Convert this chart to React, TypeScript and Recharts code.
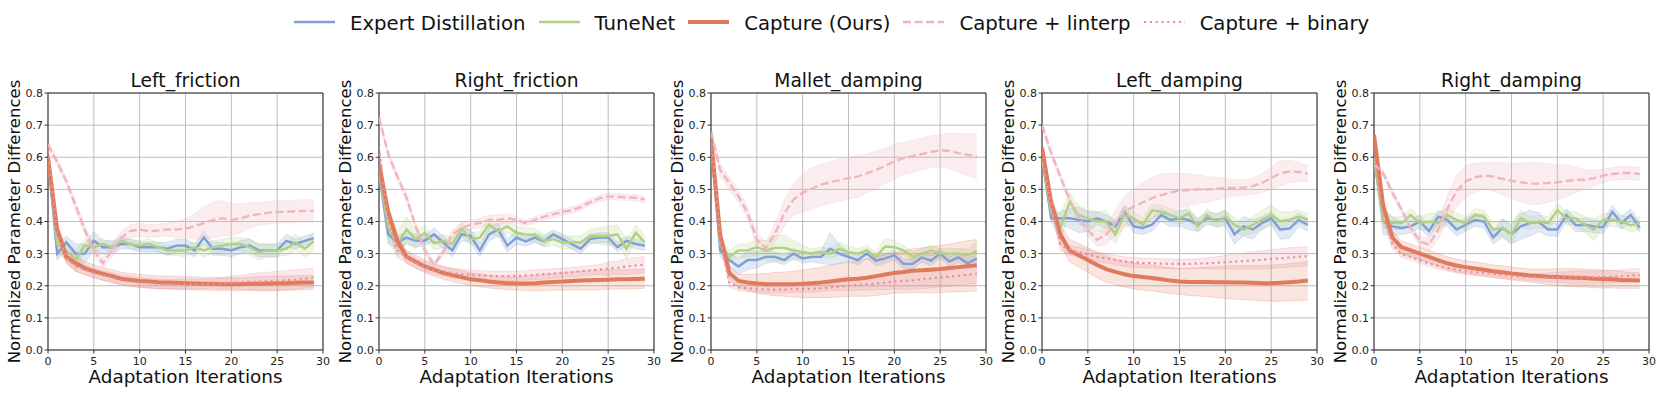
import React from 'react';
import { ComposedChart, Line, Area, XAxis, YAxis, CartesianGrid, ReferenceArea } from 'recharts';

const ITER = [0,1,2,3,4,5,6,7,8,9,10,11,12,13,14,15,16,17,18,19,20,21,22,23,24,25,26,27,28,29];
const X_TICKS = [0,5,10,15,20,25,30];
const Y_TICKS = [0,0.1,0.2,0.3,0.4,0.5,0.6,0.7,0.8];
const TITLES = ['Left_friction','Right_friction','Mallet_damping','Left_damping','Right_damping'];
const SERIES_NAMES = ['Expert Distillation','TuneNet','Capture (Ours)','Capture + linterp','Capture + binary'];

// Left_friction
const LF_EXPERT = [0.60,0.30,0.335,0.30,0.30,0.34,0.32,0.32,0.33,0.33,0.32,0.32,0.32,0.315,0.325,0.325,0.31,0.35,0.315,0.315,0.31,0.32,0.325,0.31,0.31,0.31,0.34,0.33,0.34,0.348];
const LF_TUNENET = [0.60,0.33,0.31,0.28,0.325,0.32,0.33,0.32,0.34,0.33,0.325,0.33,0.32,0.31,0.31,0.31,0.32,0.31,0.32,0.325,0.33,0.33,0.32,0.305,0.31,0.31,0.315,0.335,0.315,0.338];
const LF_CAPTURE = [0.60,0.375,0.29,0.27,0.255,0.245,0.237,0.23,0.222,0.218,0.215,0.213,0.211,0.21,0.209,0.208,0.207,0.206,0.206,0.205,0.205,0.205,0.206,0.206,0.207,0.208,0.208,0.209,0.21,0.21];
const LF_LINTERP = [0.64,0.585,0.525,0.45,0.375,0.31,0.27,0.31,0.35,0.37,0.375,0.37,0.372,0.375,0.375,0.378,0.385,0.395,0.405,0.41,0.405,0.41,0.418,0.423,0.427,0.43,0.43,0.432,0.433,0.433];
const LF_BINARY = [0.62,0.36,0.29,0.26,0.25,0.24,0.232,0.225,0.218,0.214,0.21,0.208,0.206,0.205,0.205,0.205,0.205,0.206,0.207,0.208,0.21,0.211,0.212,0.213,0.214,0.215,0.217,0.219,0.222,0.225];
const LF_EXPERT_SD = [0.005,0.02,0.02,0.03,0.03,0.03,0.02,0.02,0.015,0.015,0.015,0.015,0.015,0.02,0.02,0.02,0.02,0.02,0.02,0.02,0.02,0.02,0.02,0.02,0.02,0.02,0.02,0.015,0.015,0.015];
const LF_TUNENET_SD = [0.005,0.03,0.03,0.03,0.02,0.02,0.015,0.015,0.015,0.015,0.015,0.015,0.015,0.015,0.015,0.02,0.015,0.02,0.02,0.02,0.02,0.02,0.025,0.025,0.02,0.02,0.02,0.025,0.025,0.03];
const LF_CAPTURE_SD = [0.01,0.02,0.02,0.025,0.02,0.02,0.02,0.02,0.02,0.02,0.02,0.02,0.02,0.02,0.02,0.02,0.02,0.02,0.02,0.02,0.02,0.02,0.02,0.022,0.022,0.022,0.022,0.022,0.022,0.022];
const LF_LINTERP_SD = [0.01,0.01,0.01,0.015,0.015,0.015,0.015,0.02,0.02,0.02,0.02,0.02,0.02,0.02,0.025,0.03,0.04,0.05,0.055,0.055,0.05,0.045,0.04,0.035,0.035,0.035,0.035,0.035,0.035,0.035];
const LF_BINARY_SD = [0.01,0.02,0.02,0.015,0.015,0.015,0.015,0.015,0.015,0.015,0.015,0.015,0.015,0.015,0.015,0.015,0.015,0.015,0.015,0.018,0.02,0.022,0.025,0.027,0.028,0.03,0.03,0.03,0.03,0.03];

// Right_friction
const RF_EXPERT = [0.55,0.36,0.335,0.35,0.34,0.34,0.36,0.335,0.31,0.36,0.355,0.31,0.36,0.375,0.325,0.35,0.338,0.35,0.338,0.36,0.345,0.33,0.315,0.345,0.35,0.35,0.32,0.34,0.33,0.325];
const RF_TUNENET = [0.56,0.38,0.33,0.375,0.345,0.365,0.332,0.34,0.33,0.378,0.345,0.35,0.39,0.37,0.385,0.365,0.36,0.358,0.34,0.345,0.335,0.335,0.335,0.355,0.355,0.355,0.36,0.315,0.365,0.335];
const RF_CAPTURE = [0.58,0.43,0.34,0.29,0.275,0.26,0.25,0.24,0.233,0.227,0.22,0.217,0.213,0.21,0.208,0.207,0.207,0.208,0.21,0.212,0.213,0.215,0.216,0.217,0.218,0.219,0.22,0.22,0.221,0.222];
const RF_LINTERP = [0.725,0.61,0.54,0.475,0.385,0.31,0.265,0.305,0.36,0.38,0.39,0.395,0.405,0.405,0.41,0.405,0.395,0.405,0.415,0.422,0.43,0.435,0.445,0.46,0.472,0.478,0.477,0.475,0.474,0.468];
const RF_BINARY = [0.63,0.40,0.31,0.29,0.27,0.26,0.25,0.245,0.24,0.236,0.233,0.232,0.231,0.23,0.23,0.23,0.232,0.234,0.236,0.238,0.24,0.242,0.245,0.248,0.25,0.253,0.256,0.26,0.263,0.266];
const RF_EXPERT_SD = [0.005,0.03,0.02,0.02,0.02,0.015,0.02,0.02,0.02,0.02,0.02,0.02,0.02,0.02,0.02,0.02,0.015,0.015,0.015,0.015,0.015,0.015,0.015,0.015,0.015,0.015,0.015,0.015,0.015,0.015];
const RF_TUNENET_SD = [0.005,0.04,0.04,0.04,0.03,0.02,0.02,0.02,0.02,0.02,0.02,0.02,0.02,0.02,0.02,0.02,0.02,0.02,0.02,0.02,0.02,0.02,0.02,0.02,0.025,0.03,0.03,0.03,0.025,0.02];
const RF_CAPTURE_SD = [0.01,0.02,0.02,0.02,0.02,0.02,0.02,0.02,0.02,0.02,0.02,0.02,0.02,0.02,0.02,0.02,0.022,0.024,0.025,0.026,0.027,0.028,0.029,0.03,0.03,0.03,0.03,0.03,0.03,0.03];
const RF_LINTERP_SD = [0.01,0.01,0.01,0.01,0.01,0.01,0.01,0.01,0.015,0.015,0.015,0.015,0.015,0.015,0.015,0.01,0.01,0.01,0.01,0.01,0.01,0.01,0.01,0.01,0.01,0.01,0.01,0.01,0.01,0.01];
const RF_BINARY_SD = [0.01,0.02,0.02,0.02,0.015,0.015,0.015,0.015,0.015,0.015,0.015,0.015,0.015,0.015,0.015,0.015,0.015,0.015,0.015,0.015,0.015,0.015,0.015,0.015,0.015,0.02,0.02,0.025,0.025,0.025];

// Mallet_damping
const MD_EXPERT = [0.65,0.31,0.28,0.26,0.28,0.28,0.29,0.29,0.28,0.30,0.285,0.29,0.29,0.315,0.30,0.29,0.28,0.30,0.278,0.285,0.295,0.268,0.268,0.288,0.278,0.30,0.275,0.288,0.27,0.285];
const MD_TUNENET = [0.64,0.33,0.29,0.31,0.31,0.32,0.31,0.318,0.318,0.31,0.305,0.30,0.305,0.30,0.315,0.305,0.30,0.31,0.29,0.322,0.32,0.31,0.29,0.30,0.31,0.30,0.30,0.30,0.295,0.308];
const MD_CAPTURE = [0.66,0.36,0.24,0.215,0.21,0.207,0.205,0.205,0.205,0.205,0.206,0.208,0.21,0.213,0.217,0.22,0.222,0.225,0.23,0.235,0.24,0.243,0.247,0.248,0.25,0.252,0.255,0.258,0.261,0.264];
const MD_LINTERP = [0.68,0.56,0.52,0.478,0.426,0.343,0.317,0.364,0.426,0.468,0.489,0.502,0.515,0.522,0.528,0.535,0.54,0.55,0.56,0.573,0.587,0.597,0.603,0.61,0.617,0.621,0.62,0.613,0.607,0.603];
const MD_BINARY = [0.68,0.35,0.21,0.195,0.192,0.19,0.188,0.188,0.188,0.19,0.19,0.19,0.192,0.195,0.197,0.20,0.202,0.205,0.207,0.21,0.213,0.215,0.217,0.22,0.223,0.226,0.228,0.231,0.234,0.238];
const MD_EXPERT_SD = [0.005,0.02,0.02,0.025,0.03,0.025,0.02,0.015,0.015,0.015,0.015,0.015,0.02,0.05,0.03,0.015,0.015,0.015,0.015,0.015,0.015,0.015,0.015,0.015,0.015,0.015,0.015,0.015,0.015,0.015];
const MD_TUNENET_SD = [0.005,0.02,0.02,0.02,0.02,0.025,0.03,0.04,0.04,0.03,0.02,0.015,0.015,0.015,0.02,0.02,0.015,0.015,0.015,0.025,0.02,0.015,0.015,0.015,0.015,0.015,0.015,0.015,0.02,0.03];
const MD_CAPTURE_SD = [0.01,0.02,0.02,0.02,0.025,0.03,0.033,0.036,0.038,0.04,0.043,0.045,0.047,0.05,0.052,0.053,0.055,0.058,0.06,0.062,0.063,0.065,0.068,0.07,0.072,0.073,0.075,0.077,0.079,0.08];
const MD_LINTERP_SD = [0.01,0.02,0.02,0.02,0.02,0.02,0.02,0.03,0.04,0.05,0.06,0.065,0.065,0.065,0.065,0.065,0.065,0.06,0.06,0.055,0.055,0.05,0.05,0.05,0.05,0.05,0.055,0.06,0.065,0.07];
const MD_BINARY_SD = [0.01,0.02,0.015,0.01,0.01,0.01,0.01,0.01,0.01,0.01,0.01,0.01,0.01,0.01,0.012,0.014,0.016,0.018,0.02,0.022,0.024,0.026,0.028,0.03,0.03,0.03,0.03,0.03,0.03,0.03];

// Left_damping
const LD_EXPERT = [0.60,0.41,0.41,0.41,0.405,0.40,0.41,0.40,0.385,0.43,0.385,0.38,0.39,0.42,0.405,0.41,0.405,0.39,0.41,0.405,0.41,0.36,0.385,0.375,0.395,0.41,0.375,0.378,0.405,0.39];
const LD_TUNENET = [0.60,0.43,0.38,0.46,0.42,0.41,0.40,0.40,0.36,0.42,0.41,0.39,0.435,0.43,0.42,0.41,0.425,0.385,0.42,0.40,0.415,0.39,0.375,0.39,0.405,0.42,0.40,0.405,0.415,0.405];
const LD_CAPTURE = [0.63,0.46,0.36,0.31,0.295,0.28,0.265,0.252,0.243,0.236,0.23,0.227,0.224,0.22,0.216,0.213,0.212,0.212,0.212,0.211,0.211,0.21,0.21,0.209,0.208,0.208,0.209,0.211,0.213,0.216];
const LD_LINTERP = [0.70,0.613,0.54,0.468,0.41,0.375,0.343,0.359,0.395,0.43,0.447,0.46,0.473,0.482,0.49,0.496,0.498,0.5,0.5,0.502,0.504,0.505,0.506,0.51,0.52,0.535,0.55,0.556,0.554,0.549];
const LD_BINARY = [0.60,0.45,0.33,0.31,0.305,0.298,0.29,0.285,0.28,0.275,0.273,0.271,0.27,0.269,0.268,0.268,0.268,0.269,0.27,0.271,0.273,0.275,0.277,0.279,0.281,0.283,0.285,0.288,0.29,0.292];
const LD_EXPERT_SD = [0.005,0.01,0.02,0.03,0.04,0.03,0.02,0.02,0.02,0.02,0.02,0.02,0.02,0.02,0.02,0.025,0.03,0.02,0.02,0.02,0.025,0.03,0.03,0.03,0.02,0.02,0.03,0.03,0.02,0.02];
const LD_TUNENET_SD = [0.005,0.03,0.04,0.03,0.03,0.025,0.03,0.035,0.03,0.03,0.02,0.02,0.02,0.02,0.02,0.02,0.02,0.02,0.02,0.02,0.02,0.02,0.02,0.025,0.03,0.03,0.03,0.025,0.02,0.02];
const LD_CAPTURE_SD = [0.01,0.02,0.03,0.035,0.037,0.038,0.04,0.04,0.04,0.04,0.04,0.04,0.04,0.04,0.04,0.04,0.042,0.044,0.046,0.048,0.05,0.052,0.053,0.054,0.055,0.056,0.057,0.058,0.059,0.06];
const LD_LINTERP_SD = [0.01,0.01,0.01,0.01,0.01,0.02,0.02,0.03,0.04,0.05,0.055,0.06,0.065,0.065,0.06,0.055,0.05,0.045,0.04,0.035,0.03,0.025,0.025,0.025,0.03,0.035,0.04,0.035,0.03,0.025];
const LD_BINARY_SD = [0.01,0.02,0.02,0.015,0.015,0.015,0.015,0.015,0.015,0.015,0.015,0.015,0.015,0.015,0.015,0.015,0.015,0.015,0.017,0.019,0.021,0.023,0.025,0.027,0.028,0.029,0.03,0.03,0.03,0.03];

// Right_damping
const RD_EXPERT = [0.60,0.40,0.385,0.38,0.385,0.40,0.37,0.415,0.405,0.375,0.39,0.405,0.40,0.35,0.38,0.36,0.385,0.395,0.398,0.375,0.375,0.42,0.388,0.39,0.385,0.382,0.43,0.395,0.42,0.38];
const RD_TUNENET = [0.60,0.40,0.395,0.395,0.42,0.395,0.40,0.395,0.42,0.405,0.395,0.42,0.415,0.375,0.38,0.36,0.41,0.395,0.40,0.395,0.435,0.41,0.41,0.39,0.375,0.405,0.405,0.40,0.388,0.395];
const RD_CAPTURE = [0.67,0.45,0.35,0.32,0.31,0.30,0.29,0.28,0.27,0.263,0.258,0.254,0.25,0.245,0.242,0.238,0.235,0.232,0.23,0.228,0.227,0.226,0.225,0.224,0.222,0.221,0.22,0.218,0.217,0.216];
const RD_LINTERP = [0.58,0.55,0.49,0.437,0.38,0.338,0.328,0.375,0.44,0.494,0.525,0.537,0.543,0.54,0.533,0.527,0.522,0.518,0.518,0.52,0.522,0.526,0.53,0.53,0.535,0.543,0.548,0.551,0.551,0.548];
const RD_BINARY = [0.60,0.42,0.33,0.298,0.29,0.28,0.27,0.262,0.255,0.25,0.245,0.242,0.24,0.237,0.233,0.23,0.228,0.227,0.226,0.226,0.226,0.226,0.226,0.226,0.226,0.227,0.228,0.23,0.232,0.233];
const RD_EXPERT_SD = [0.005,0.04,0.03,0.02,0.02,0.02,0.02,0.02,0.02,0.02,0.02,0.02,0.02,0.02,0.03,0.03,0.04,0.04,0.03,0.02,0.02,0.02,0.02,0.02,0.02,0.02,0.02,0.02,0.02,0.015];
const RD_TUNENET_SD = [0.005,0.02,0.02,0.02,0.02,0.02,0.025,0.03,0.025,0.02,0.02,0.02,0.02,0.02,0.025,0.03,0.025,0.02,0.02,0.02,0.02,0.02,0.02,0.025,0.035,0.02,0.02,0.02,0.02,0.02];
const RD_CAPTURE_SD = [0.01,0.02,0.02,0.02,0.02,0.02,0.02,0.02,0.02,0.02,0.02,0.02,0.02,0.02,0.02,0.02,0.02,0.02,0.022,0.024,0.026,0.028,0.028,0.028,0.028,0.028,0.027,0.026,0.025,0.024];
const RD_LINTERP_SD = [0.01,0.01,0.01,0.01,0.01,0.015,0.02,0.03,0.04,0.05,0.05,0.045,0.04,0.045,0.05,0.055,0.06,0.065,0.065,0.06,0.055,0.05,0.04,0.03,0.025,0.02,0.02,0.02,0.02,0.02];
const RD_BINARY_SD = [0.01,0.02,0.015,0.01,0.01,0.01,0.01,0.01,0.01,0.01,0.01,0.01,0.01,0.01,0.01,0.01,0.01,0.01,0.012,0.014,0.016,0.018,0.02,0.02,0.02,0.02,0.02,0.02,0.02,0.02];

const FONT = '"DejaVu Sans", Verdana, sans-serif';

const SERIES = [
  { key: 'expert', color: '#7f9fd8', width: 2.4, dash: undefined as string | undefined, bandOpacity: 0.22 },
  { key: 'tunenet', color: '#b2d083', width: 2.4, dash: undefined as string | undefined, bandOpacity: 0.22 },
  { key: 'capture', color: '#e07a5c', width: 4, dash: undefined as string | undefined, bandOpacity: 0.2 },
  { key: 'linterp', color: '#f0b6bf', width: 2.4, dash: '8 3.5', bandOpacity: 0.25 },
  { key: 'binary', color: '#e88e9c', width: 2.2, dash: '2.2 3.6', bandOpacity: 0.2 },
];

const PANEL_DATA = [
  [[LF_EXPERT, LF_EXPERT_SD], [LF_TUNENET, LF_TUNENET_SD], [LF_CAPTURE, LF_CAPTURE_SD], [LF_LINTERP, LF_LINTERP_SD], [LF_BINARY, LF_BINARY_SD]],
  [[RF_EXPERT, RF_EXPERT_SD], [RF_TUNENET, RF_TUNENET_SD], [RF_CAPTURE, RF_CAPTURE_SD], [RF_LINTERP, RF_LINTERP_SD], [RF_BINARY, RF_BINARY_SD]],
  [[MD_EXPERT, MD_EXPERT_SD], [MD_TUNENET, MD_TUNENET_SD], [MD_CAPTURE, MD_CAPTURE_SD], [MD_LINTERP, MD_LINTERP_SD], [MD_BINARY, MD_BINARY_SD]],
  [[LD_EXPERT, LD_EXPERT_SD], [LD_TUNENET, LD_TUNENET_SD], [LD_CAPTURE, LD_CAPTURE_SD], [LD_LINTERP, LD_LINTERP_SD], [LD_BINARY, LD_BINARY_SD]],
  [[RD_EXPERT, RD_EXPERT_SD], [RD_TUNENET, RD_TUNENET_SD], [RD_CAPTURE, RD_CAPTURE_SD], [RD_LINTERP, RD_LINTERP_SD], [RD_BINARY, RD_BINARY_SD]],
];

const PANEL_LEFTS = [0, 331, 663, 994, 1326];

function buildRows(panel: number[][][]) {
  return ITER.map((x, i) => {
    const row: any = { x };
    SERIES.forEach((s, k) => {
      const v = panel[k][0][i];
      const sd = panel[k][1][i];
      row[s.key] = v;
      row[s.key + 'Band'] = [v - sd, v + sd];
    });
    return row;
  });
}

const YLabel = (props: any) => {
  const vb = props.viewBox || { x: 0, y: 93, width: 48, height: 257 };
  const cx = vb.x + 20;
  const cy = vb.y + vb.height / 2;
  return (
    <text x={cx} y={cy} transform={`rotate(-90 ${cx} ${cy})`} textAnchor="middle" fontSize={16.5} fill="#111" fontFamily={FONT}>
      Normalized Parameter Differences
    </text>
  );
};

const XLabel = (props: any) => {
  const vb = props.viewBox || { x: 48, y: 350, width: 275, height: 44 };
  const cx = vb.x + vb.width / 2;
  const by = vb.y + 33;
  return (
    <text x={cx} y={by} textAnchor="middle" fontSize={18.4} fill="#111" fontFamily={FONT}>
      Adaptation Iterations
    </text>
  );
};

function Panel({ idx }: { idx: number }) {
  const rows = buildRows(PANEL_DATA[idx]);
  return (
    <div style={{ position: 'absolute', left: PANEL_LEFTS[idx], top: 0 }}>
      <ComposedChart width={331} height={394} data={rows} margin={{ top: 93, right: 8, bottom: 0, left: 0 }} style={{ fontFamily: FONT }}>
        <CartesianGrid stroke="#bdbdbd" strokeWidth={1} horizontalValues={Y_TICKS} verticalValues={X_TICKS} />
        <XAxis
          dataKey="x" type="number" domain={[0, 30]} ticks={X_TICKS} interval={0} allowDataOverflow
          height={44} axisLine={false} tickSize={3.5} tickMargin={3.5}
          tickLine={{ stroke: '#333' }}
          tick={{ fontSize: 11, fill: '#222', fontFamily: FONT }}
          label={<XLabel />}
        />
        <YAxis
          type="number" domain={[0, 0.8]} ticks={Y_TICKS} interval={0} allowDataOverflow
          width={48} axisLine={false} tickSize={3.5} tickMargin={1.5}
          tickLine={{ stroke: '#333' }}
          tick={{ fontSize: 11, fill: '#222', fontFamily: FONT }}
          tickFormatter={(v: number) => v.toFixed(1)}
          label={<YLabel />}
        />
        {SERIES.map((s) => (
          <Area
            key={s.key + 'Band'} type="linear" dataKey={s.key + 'Band'}
            stroke={s.color} strokeOpacity={0.25} strokeWidth={1}
            fill={s.color} fillOpacity={s.bandOpacity}
            dot={false} activeDot={false} isAnimationActive={false}
          />
        ))}
        {SERIES.map((s, k) => (
          <Line
            key={s.key} type="linear" dataKey={s.key} name={SERIES_NAMES[k]}
            stroke={s.color} strokeWidth={s.width} strokeDasharray={s.dash}
            dot={false} activeDot={false} isAnimationActive={false}
          />
        ))}
        <ReferenceArea
          x1={0} x2={30} y1={0} y2={0.8} fill="none" stroke="#2b2b2b" strokeWidth={1}
          label={{ value: TITLES[idx], position: 'top', offset: 6, fontSize: 18.7, fill: '#111', fontFamily: FONT }}
        />
      </ComposedChart>
    </div>
  );
}

function Legend() {
  return (
    <div style={{ position: 'absolute', left: 294, top: 11.5, display: 'flex', alignItems: 'center', fontFamily: FONT, fontSize: 19.7, color: '#111', whiteSpace: 'nowrap', lineHeight: 'normal' }}>
      {SERIES.map((s, k) => (
        <div key={s.key} style={{ display: 'flex', alignItems: 'center', marginRight: 13 }}>
          <svg width={41} height={10} style={{ marginRight: 15, marginTop: -2 }}>
            <line x1={0} y1={5} x2={41} y2={5} stroke={s.color} strokeWidth={s.width} strokeDasharray={s.dash} />
          </svg>
          <span>{SERIES_NAMES[k]}</span>
        </div>
      ))}
    </div>
  );
}

export default function App() {
  return (
    <div style={{ position: 'absolute', left: 0, top: 0, width: 1661, height: 394, background: '#fff' }}>
      <Legend />
      {TITLES.map((t, i) => (
        <Panel key={t} idx={i} />
      ))}
    </div>
  );
}
